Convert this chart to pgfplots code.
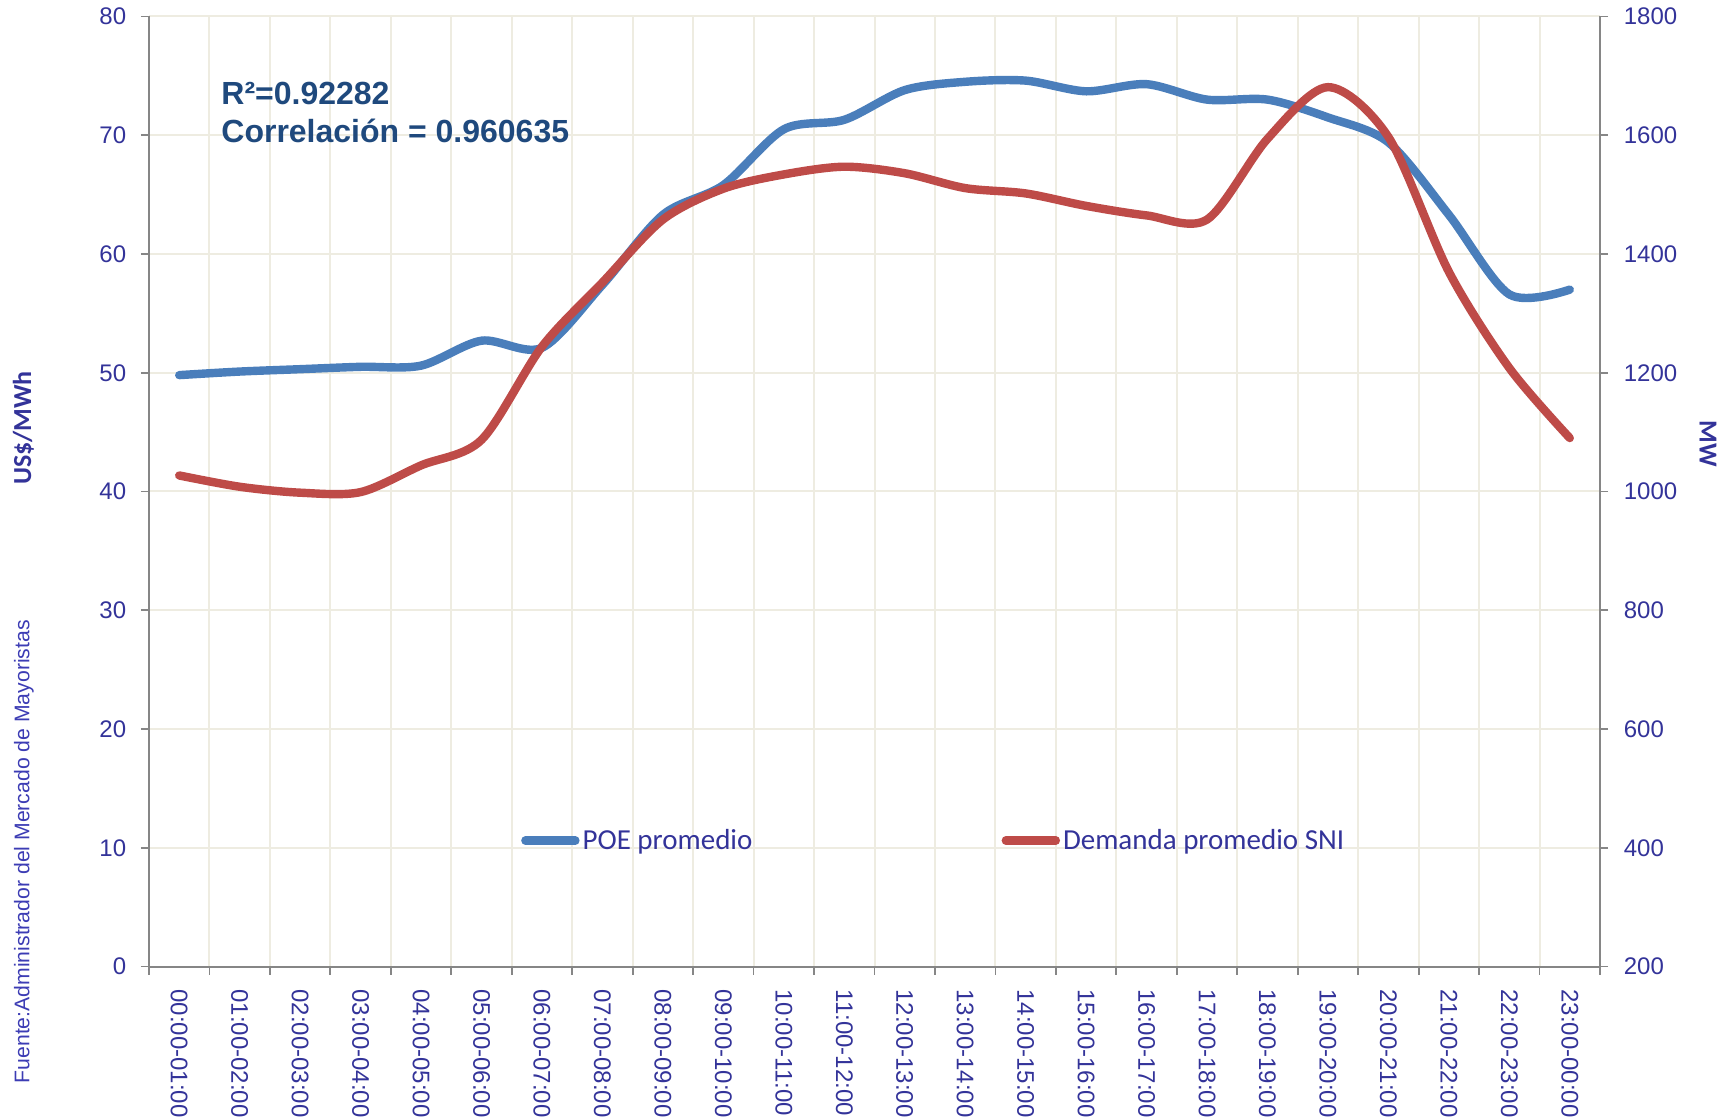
\documentclass[border=0pt]{standalone}
\usepackage{pgfplots}
\pgfplotsset{compat=1.18}
\usepackage{fontspec}
\setmainfont{Liberation Sans}
\newfontfamily\calibri{Carlito}
\definecolor{poe}{RGB}{74,126,187}
\definecolor{dem}{RGB}{190,75,72}
\definecolor{tlc}{RGB}{51,51,153}
\definecolor{ttl}{RGB}{31,73,125}
\definecolor{gridc}{RGB}{238,236,225}
\definecolor{axc}{RGB}{134,134,134}
\definecolor{src}{RGB}{60,60,180}

\pgfplotsset{
  base/.style={
    scale only axis, width=725.5pt, height=475pt,
    at={(0pt,0pt)}, anchor=south west,
    xmin=-0.5, xmax=23.5,
    tick align=outside,
    major tick length=4pt,
    tick style={draw=axc, line width=0.9pt},
    axis line style={draw=axc, line width=1pt, -},
    ticklabel style={font=\fontsize{12}{14}\selectfont, text=tlc},
    /pgf/number format/assume math mode=true,
    /pgf/number format/1000 sep={},
  }
}

\begin{document}
\begin{tikzpicture}
\begin{axis}[base,
  axis x line*=bottom, axis y line*=left,
  ymin=0, ymax=80, ytick={0,10,...,80},
  yticklabel style={xshift=-3.9pt},
  xtick={-0.5,0.5,1.5,2.5,3.5,4.5,5.5,6.5,7.5,8.5,9.5,10.5,11.5,12.5,13.5,14.5,15.5,16.5,17.5,18.5,19.5,20.5,21.5,22.5,23.5},
  xticklabels={},
  xmajorgrids, ymajorgrids,
  grid style={draw=gridc, line width=1pt},
]
\addplot[poe, line width=4.2pt, smooth, line cap=round, line join=round] coordinates {
(0,49.8) (1,50.1) (2,50.3) (3,50.5) (4,50.6) (5,52.7) (6,52.1) (7,57.4)
(8,63.3) (9,65.8) (10,70.5) (11,71.3) (12,73.8) (13,74.5) (14,74.6) (15,73.7)
(16,74.3) (17,73.0) (18,73.0) (19,71.5) (20,69.4) (21,63.3) (22,56.6) (23,57.0)
};
\end{axis}
\begin{axis}[base,
  axis x line*=bottom, axis y line*=right,
  ymin=200, ymax=1800, ytick={200,400,...,1800},
  yticklabel style={xshift=4.4pt},
  xtick={0,...,23},
  xticklabels={00:00-01:00,01:00-02:00,02:00-03:00,03:00-04:00,04:00-05:00,05:00-06:00,06:00-07:00,07:00-08:00,08:00-09:00,09:00-10:00,10:00-11:00,11:00-12:00,12:00-13:00,13:00-14:00,14:00-15:00,15:00-16:00,16:00-17:00,17:00-18:00,18:00-19:00,19:00-20:00,20:00-21:00,21:00-22:00,22:00-23:00,23:00-00:00},
  xtick style={draw=none},
  xticklabel style={rotate=-90, anchor=west, inner xsep=7.3pt},
  legend columns=2,
  legend style={at={(0.2565,0.1326)}, anchor=west, draw=none, fill=none,
    inner sep=0pt, outer sep=0pt,
    font=\calibri\fontsize{14.5}{16}\selectfont, text=tlc,
    nodes={inner sep=0pt},
    /tikz/every odd column/.append style={column sep=1.5pt},
    /tikz/every even column/.append style={column sep=124.6pt}},
  legend image code/.code={\draw[#1, line cap=round] (0pt,0pt) -- (25pt,0pt);},
]
\addlegendimage{poe, line width=4.2pt}
\addlegendentry{POE promedio}
\addplot[dem, line width=4.2pt, smooth, line cap=round, line join=round] coordinates {
(0,1027) (1,1008) (2,998) (3,999) (4,1044) (5,1087) (6,1244) (7,1352)
(8,1458) (9,1510) (10,1534) (11,1547) (12,1536) (13,1511) (14,1502) (15,1481)
(16,1465) (17,1458) (18,1594) (19,1681) (20,1597) (21,1370) (22,1208) (23,1090)
};
\addlegendentry{Demanda promedio SNI}
\end{axis}
\node[anchor=base west, inner sep=0pt, text=ttl, font=\bfseries\fontsize{16}{19}\selectfont] at (36pt,430.75pt) {R²=0.92282};
\node[anchor=base west, inner sep=0pt, text=ttl, font=\bfseries\fontsize{16}{19}\selectfont] at (36pt,412pt) {Correlación = 0.960635};
\node[rotate=90, inner sep=0pt, text=tlc, font=\calibri\bfseries\fontsize{13}{15}\selectfont] at (-62.75pt,269.25pt) {US\$/MWh};
\node[rotate=-90, inner sep=0pt, text=tlc, font=\calibri\bfseries\fontsize{13}{15}\selectfont] at (779.5pt,261.5pt) {MW};
\node[rotate=90, inner sep=0pt, text=src, font=\fontsize{10.6}{12}\selectfont] at (-62.5pt,57.4pt) {Fuente:Administrador del Mercado de Mayoristas};
\pgfresetboundingbox
\path[use as bounding box] (-74.5pt,-76.25pt) rectangle (791.5pt,483.25pt);
\end{tikzpicture}
\end{document}
